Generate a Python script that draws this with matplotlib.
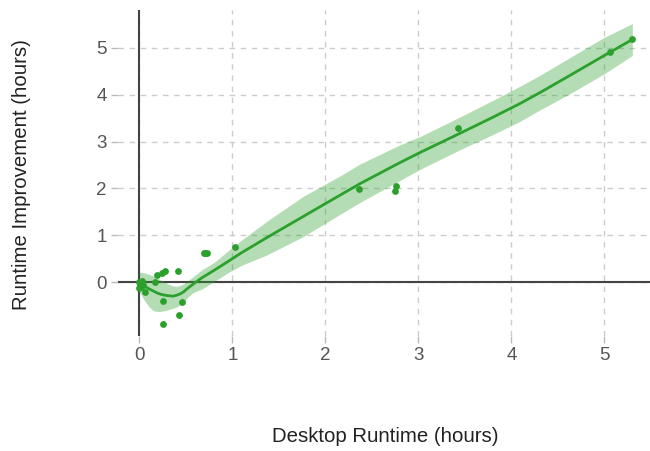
import matplotlib
matplotlib.use("Agg")
import matplotlib.pyplot as plt

plt.rcParams['font.family'] = ['Liberation Sans', 'DejaVu Sans']

# scatter data (hours)
desktop_runtime = [0.00, 0.01, 0.02, 0.03, 0.00, 0.04, 0.06, 0.17, 0.19, 0.24, 0.28,
                   0.42, 0.25, 0.46, 0.43, 0.25, 0.69, 0.71, 0.73, 1.03,
                   2.36, 2.76, 2.75, 3.43, 5.06, 5.30]
runtime_improvement = [0.00, -0.05, -0.10, 0.02, -0.12, -0.06, -0.21, 0.00, 0.16, 0.19, 0.24,
                       0.24, -0.41, -0.42, -0.71, -0.90, 0.63, 0.63, 0.63, 0.74,
                       1.98, 2.05, 1.94, 3.29, 4.92, 5.19]

# smoothed fit with confidence band
fit_x = [0.00, 0.05, 0.10, 0.15, 0.20, 0.25, 0.31, 0.36, 0.40, 0.44, 0.48, 0.52,
         0.58, 0.67, 0.81, 0.96, 1.10, 1.37, 1.76, 2.16, 2.37, 2.80, 3.02, 3.45,
         3.80, 4.09, 4.31, 4.60, 5.00, 5.30]
fit_y = [-0.03, -0.08, -0.14, -0.19, -0.24, -0.27, -0.29, -0.30, -0.28, -0.25, -0.20, -0.13,
         -0.04, 0.09, 0.26, 0.45, 0.63, 0.95, 1.40, 1.86, 2.10, 2.55, 2.77, 3.18,
         3.52, 3.81, 4.05, 4.38, 4.84, 5.18]
fit_hi = [0.22, 0.20, 0.17, 0.13, 0.08, 0.02, -0.04, -0.08, -0.09, -0.07, -0.03, 0.03,
          0.12, 0.26, 0.43, 0.68, 0.90, 1.30, 1.83, 2.27, 2.52, 2.93, 3.11, 3.53,
          3.88, 4.18, 4.42, 4.76, 5.23, 5.52]
fit_lo = [-0.21, -0.38, -0.52, -0.61, -0.63, -0.62, -0.59, -0.56, -0.53, -0.49, -0.43, -0.32,
          -0.22, -0.15, 0.02, 0.21, 0.36, 0.58, 0.97, 1.45, 1.70, 2.17, 2.41, 2.83,
          3.15, 3.43, 3.68, 3.99, 4.45, 4.84]

x_ticks = [0, 1, 2, 3, 4, 5]
y_ticks = [0, 1, 2, 3, 4, 5]

green = '#2ca02c'

fig = plt.figure(figsize=(6.5, 4.51), dpi=100)
ax = fig.add_axes([118 / 650, 1 - 336 / 451, 1 - 118 / 650, (336 - 10) / 451])

ax.set_xlim(-0.23, 5.49)
ax.set_ylim(-1.15, 5.81)

for s in ax.spines.values():
    s.set_visible(False)

ax.set_xticks(x_ticks)
ax.set_yticks(y_ticks)
ax.grid(True, color='#cccccc', linestyle=(0, (4, 4)), linewidth=1)
ax.set_axisbelow(True)
ax.tick_params(axis='both', colors='#bbbbbb', labelcolor='#555555',
               labelsize=13.5, length=5, width=1, pad=3)

ax.axhline(0, color='#444444', linewidth=1.5, zorder=2)
ax.axvline(0, color='#444444', linewidth=1.5, zorder=2)

ax.fill_between(fit_x, fit_lo, fit_hi, color=green, alpha=0.35, linewidth=0, zorder=3)
ax.plot(fit_x, fit_y, color=green, linewidth=2, zorder=4, solid_joinstyle='round')
ax.scatter(desktop_runtime, runtime_improvement, s=24, color=green, zorder=5,
           linewidths=0)

fig.text(385 / 650, 1 - 437 / 451, 'Desktop Runtime (hours)', ha='center', va='center',
         fontsize=14.7, color='#222222')
fig.text(22 / 650, 1 - 175 / 451, 'Runtime Improvement (hours)', ha='center', va='center',
         rotation=90, fontsize=14.7, color='#222222')

fig.savefig('out.png', dpi=100)
